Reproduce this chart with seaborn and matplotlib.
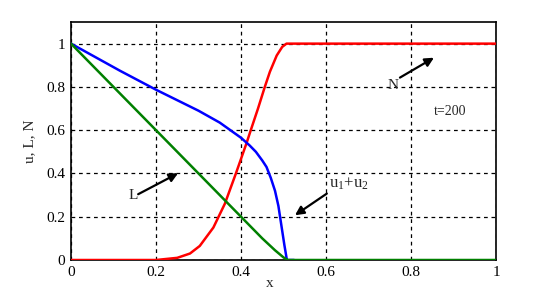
import numpy as np
import pandas as pd
import seaborn as sns
import matplotlib.pyplot as plt

# curves (x, value)
l_x = [0.0, 0.1, 0.2, 0.3, 0.4, 0.45, 0.48, 0.5, 0.51, 1.0]
l_y = [1.0, 0.80, 0.60, 0.40, 0.20, 0.10, 0.045, 0.012, 0.0, 0.0]

u_x = [0.0, 0.115, 0.2, 0.3, 0.35, 0.375, 0.4, 0.42, 0.435, 0.45, 0.46, 0.47, 0.48, 0.488, 0.495, 0.502, 0.508, 0.525]
u_y = [1.0, 0.875, 0.787, 0.69, 0.635, 0.60, 0.565, 0.53, 0.50, 0.46, 0.43, 0.38, 0.32, 0.25, 0.16, 0.07, 0.0, 0.0]

n_x = [0.0, 0.2, 0.25, 0.28, 0.303, 0.335, 0.362, 0.388, 0.413, 0.423, 0.44, 0.456, 0.468, 0.484, 0.497, 0.507, 1.0]
n_y = [0.0, 0.0, 0.01, 0.03, 0.065, 0.15, 0.26, 0.40, 0.54, 0.60, 0.70, 0.80, 0.87, 0.945, 0.985, 1.0, 1.0]

ticks = [0, 0.2, 0.4, 0.6, 0.8, 1]
tick_labels = ["0", "0.2", "0.4", "0.6", "0.8", "1"]

sns.set_style("white")
plt.rcParams['font.family'] = ['Liberation Serif', 'DejaVu Serif']
plt.rcParams['mathtext.fontset'] = 'custom'
plt.rcParams['mathtext.rm'] = 'Liberation Serif'
plt.rcParams['mathtext.it'] = 'Liberation Serif'

fig = plt.figure(figsize=(5.49, 2.93), dpi=100)
ax = fig.add_axes([71 / 549, 33 / 293, 425 / 549, 238 / 293])

sns.lineplot(x=n_x, y=n_y, color='#ff0000', lw=1.8, sort=False, ax=ax, zorder=3)
sns.lineplot(x=u_x, y=u_y, color='#0000ff', lw=1.8, sort=False, ax=ax, zorder=3)
sns.lineplot(x=l_x, y=l_y, color='#008000', lw=1.8, sort=False, ax=ax, zorder=4)

ax.set_xlim(0, 1)
ax.set_ylim(0, 1.1)
ax.set_xticks(ticks)
ax.set_xticklabels(tick_labels)
ax.set_yticks(ticks)
ax.set_yticklabels(tick_labels)
ax.tick_params(length=0, labelsize=11, pad=4, colors='black')
ax.grid(True, color='black', linestyle=(0, (3, 3)), lw=0.9)
for s in ax.spines.values():
    s.set_color('black')
    s.set_linewidth(1.2)

ax.set_xlabel('x', fontsize=11)
ax.xaxis.set_label_coords(0.468, -0.07)
ax.set_ylabel('u, L, N', fontsize=11)
ax.yaxis.set_label_coords(-0.082, 0.5)

arrow = dict(arrowstyle='-|>', color='black', lw=1.6, mutation_scale=13, shrinkA=0, shrinkB=0)
ax.annotate('', xy=(0.252, 0.401), xytext=(0.158, 0.304), arrowprops=arrow)
ax.text(0.146, 0.30, 'L', fontsize=11, ha='center', va='center')
ax.annotate('', xy=(0.854, 0.935), xytext=(0.774, 0.843), arrowprops=arrow)
ax.text(0.758, 0.806, 'N', fontsize=11, ha='center', va='center')
ax.annotate('', xy=(0.527, 0.207), xytext=(0.602, 0.307), arrowprops=arrow)
ax.text(0.607, 0.35, r'u$_1$+u$_2$', fontsize=12, ha='left', va='center')
ax.text(0.892, 0.687, 't=200', fontsize=10, ha='center', va='center')

fig.savefig('out.png', dpi=100)
